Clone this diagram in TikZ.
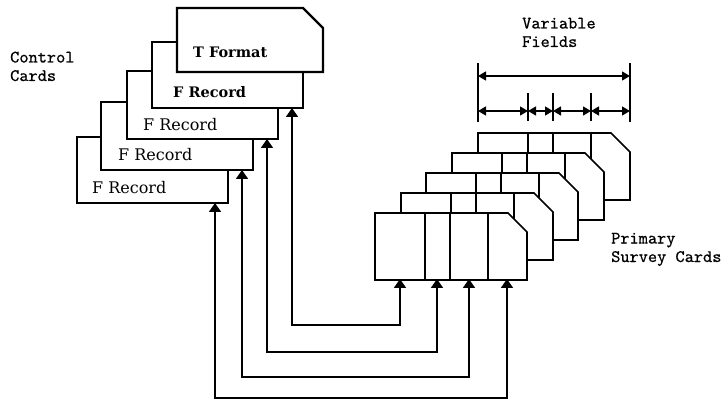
\documentclass[tikz,border=0pt]{standalone}
\usepackage{fontspec}
\setmainfont{DejaVu Serif}
\newfontfamily\lblfont[FakeBold=0.6]{lmmono10-regular.otf}
\usetikzlibrary{arrows.meta}
\begin{document}
\begin{tikzpicture}[x=1pt,y=-1pt,
  cardline/.style={draw=black, line width=1.7pt, fill=white, line join=miter},
  tcard/.style={draw=black, line width=2.4pt, fill=white, line join=miter},
  divider/.style={draw=black, line width=1.8pt},
  cardtext/.style={inner sep=0pt, anchor=base west, font=\fontsize{16}{18}\selectfont},
  cardbold/.style={inner sep=0pt, anchor=base west, font=\fontsize{14.5}{17}\selectfont\bfseries},
  lbl/.style={inner sep=0pt, anchor=base west, align=left, font=\fontsize{17.5}{18.5}\selectfont\lblfont},
  conn/.style={draw=black, line width=1.8pt, {Triangle[width=12pt,length=9pt]}-{Triangle[width=12pt,length=9pt]}},
  dimline/.style={draw=black, line width=1.3pt, {Triangle[width=9pt,length=8pt]}-{Triangle[width=9pt,length=8pt]}},
  extline/.style={draw=black, line width=1.5pt}]
\useasboundingbox (0,0) rectangle (724,401);

% ---- control cards (back to front: top-right card is in front) ----
\draw[cardline] (77,137) rectangle (228,203);
\coordinate (cf4) at (215,203);
\node[cardtext] (tf4) at (92,194) {F Record};

\draw[cardline] (101,102) rectangle (253,170);
\coordinate (cf3) at (242,170);
\node[cardtext] (tf3) at (118,161) {F Record};

\draw[cardline] (127,71) rectangle (278,139);
\coordinate (cf2) at (267,139);
\node[cardtext] (tf2) at (143,131) {F Record};

\draw[cardline] (152,42) rectangle (303,108);
\coordinate (cf1) at (292,108);
\node[cardbold] (tf1) at (173,98) {F Record};

\draw[tcard] (177,8) -- (303,8) -- (323,28) -- (323,72) -- (177,72) -- cycle;
\node[cardbold] (tfmt) at (193,58) {T Format};

\node[lbl] (ctl) at (10,81) {Control\\Cards};

% ---- primary survey cards ----
\foreach \xo/\yo in {478/133, 452/153, 426/173, 401/193, 375/213} {
  \draw[cardline] (\xo,\yo) -- ++(133,0) -- ++(19,19) -- ++(0,48) -- ++(-152,0) -- cycle;
  \draw[divider] (\xo+50,\yo) -- ++(0,67);
  \draw[divider] (\xo+75,\yo) -- ++(0,67);
  \draw[divider] (\xo+113,\yo) -- ++(0,67);
}
\coordinate (sc1) at (400,279);
\coordinate (sc2) at (437,279);
\coordinate (sc3) at (469,279);
\coordinate (sc4) at (507,279);

\node[lbl] (psc) at (611,262) {Primary\\Survey Cards};

% ---- connectors ----
\draw[conn] (cf1) -- (cf1 |- 0,325) -- (sc1 |- 0,325) -- (sc1);
\draw[conn] (cf2) -- (cf2 |- 0,352) -- (sc2 |- 0,352) -- (sc2);
\draw[conn] (cf3) -- (cf3 |- 0,377) -- (sc3 |- 0,377) -- (sc3);
\draw[conn] (cf4) -- (cf4 |- 0,398) -- (sc4 |- 0,398) -- (sc4);

% ---- variable fields dimensioning ----
\coordinate (d0) at (478,111);
\coordinate (d1) at (528,111);
\coordinate (d2) at (553,111);
\coordinate (d3) at (591,111);
\coordinate (d4) at (630,111);
\coordinate (t0) at (478,76);
\coordinate (t4) at (630,76);
\draw[extline] (478,63) -- (478,122);
\draw[extline] (630,63) -- (630,122);
\draw[extline] (528,93) -- (528,121);
\draw[extline] (553,93) -- (553,121);
\draw[extline] (591,93) -- (591,121);
\draw[dimline] (t0) -- (t4);
\draw[dimline] (d0) -- (d1);
\draw[dimline] (d1) -- (d2);
\draw[dimline] (d2) -- (d3);
\draw[dimline] (d3) -- (d4);
\node[lbl] (vf) at (522,47) {Variable\\Fields};
\end{tikzpicture}
\end{document}
